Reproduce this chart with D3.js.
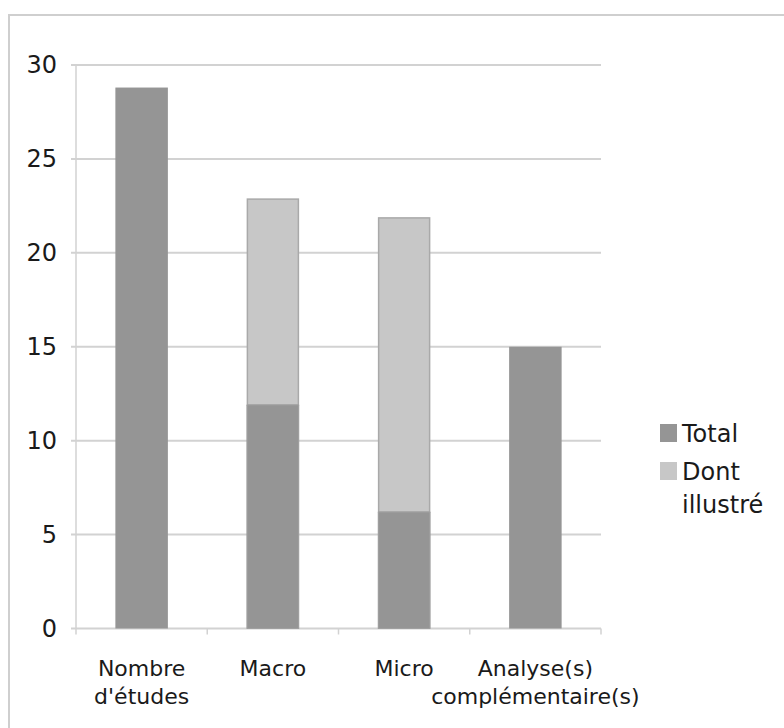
<!DOCTYPE html>
<html>
<head>
<meta charset="utf-8">
<script src="https://cdn.jsdelivr.net/npm/d3@7"></script>
<style>
  html, body { margin: 0; padding: 0; background: #ffffff; }
  svg { display: block; }
</style>
</head>
<body>
<svg id="chart" width="784" height="728"></svg>
<script>
// ---- data ----
const categories = [["Nombre", "d'études"], ["Macro"], ["Micro"], ["Analyse(s)", "complémentaire(s)"]];
const categoryKeys = ["Nombre d'études", "Macro", "Micro", "Analyse(s) complémentaire(s)"];
const totalValues = [28.8, 11.9, 6.2, 15];
const illustreValues = [0, 11, 15.7, 0];
const seriesNames = ["Total", "Dont illustré"];
const yTicks = [0, 5, 10, 15, 20, 25, 30];

// ---- layout ----
const svg = d3.select("#chart");
const font = "'DejaVu Sans', sans-serif";
const colTotal = "#959595";
const colIll = "#c7c7c7";
const gridCol = "#d2d2d2";

// outer frame
svg.append("rect").attr("x", 0).attr("y", 0).attr("width", 784).attr("height", 728).attr("fill", "#ffffff");
svg.append("line").attr("x1", 9).attr("x2", 784).attr("y1", 15).attr("y2", 15)
  .attr("stroke", "#cfcfcf").attr("stroke-width", 2);
svg.append("line").attr("x1", 9).attr("x2", 9).attr("y1", 14).attr("y2", 728)
  .attr("stroke", "#cfcfcf").attr("stroke-width", 2);

const x = d3.scaleBand().domain(categoryKeys).range([76, 601]).paddingInner(0.6).paddingOuter(0.3);
const y = d3.scaleLinear().domain([0, 30]).range([628.5, 65]);

// gridlines
const g = svg.append("g");
g.selectAll("line.grid").data(yTicks).enter().append("line")
  .attr("x1", 71).attr("x2", 601)
  .attr("y1", d => y(d)).attr("y2", d => y(d))
  .attr("stroke", gridCol).attr("stroke-width", 2);

// y axis line
g.append("line").attr("x1", 76).attr("x2", 76).attr("y1", y(30)).attr("y2", y(0))
  .attr("stroke", gridCol).attr("stroke-width", 1.5);

// x ticks at band boundaries
const step = x.step();
const bounds = d3.range(categoryKeys.length + 1).map(i => 76 + i * (525 / categoryKeys.length));
g.selectAll("line.xt").data(bounds).enter().append("line")
  .attr("x1", d => d).attr("x2", d => d)
  .attr("y1", y(0)).attr("y2", y(0) + 6)
  .attr("stroke", gridCol).attr("stroke-width", 1.5);

// y labels
g.selectAll("text.yl").data(yTicks).enter().append("text")
  .attr("x", 57).attr("y", d => y(d) + 8)
  .attr("text-anchor", "end")
  .attr("font-family", font).attr("font-size", 24).attr("fill", "#1a1a1a")
  .text(d => d);

// stacked data
const rows = categoryKeys.map((k, i) => ({ key: k, total: totalValues[i], ill: illustreValues[i] }));
const stack = d3.stack().keys(["total", "ill"])(rows);

// bars
const bw = x.bandwidth();
// Total
g.selectAll("rect.tot").data(stack[0]).enter().append("rect")
  .attr("x", d => x(d.data.key)).attr("width", bw)
  .attr("y", d => y(d[1])).attr("height", d => y(d[0]) - y(d[1]))
  .attr("fill", colTotal);
// Dont illustré
g.selectAll("rect.ill").data(stack[1].filter(d => d[1] - d[0] > 0)).enter().append("rect")
  .attr("x", d => x(d.data.key) + 0.75).attr("width", bw - 1.5)
  .attr("y", d => y(d[1]) + 0.75).attr("height", d => y(d[0]) - y(d[1]) - 0.75)
  .attr("fill", colIll).attr("stroke", "#a9a9a9").attr("stroke-width", 1.5);
// outline on total part below light part
g.selectAll("rect.totOutline").data(stack[0].filter((d, i) => illustreValues[i] > 0)).enter().append("rect")
  .attr("x", d => x(d.data.key) + 0.5).attr("width", bw - 1)
  .attr("y", d => y(d[1])).attr("height", d => y(d[0]) - y(d[1]))
  .attr("fill", colTotal).attr("stroke", "#a0a0a0").attr("stroke-width", 1);

// category labels
const lab = g.selectAll("text.cat").data(categories).enter().append("text")
  .attr("font-family", font).attr("font-size", 22).attr("fill", "#1a1a1a")
  .attr("text-anchor", "middle");
lab.each(function(lines, i) {
  const cx = x(categoryKeys[i]) + bw / 2;
  d3.select(this).selectAll("tspan").data(lines).enter().append("tspan")
    .attr("x", cx).attr("y", (d, j) => 676 + j * 28)
    .text(d => d);
});

// legend
const legend = svg.append("g");
legend.append("rect").attr("x", 660).attr("y", 424).attr("width", 17).attr("height", 18).attr("fill", colTotal);
legend.append("text").attr("x", 682).attr("y", 442)
  .attr("font-family", font).attr("font-size", 24).attr("fill", "#1a1a1a").text(seriesNames[0]);
legend.append("rect").attr("x", 660).attr("y", 462).attr("width", 17).attr("height", 18).attr("fill", colIll);
const lt = legend.append("text").attr("font-family", font).attr("font-size", 24).attr("fill", "#1a1a1a");
lt.append("tspan").attr("x", 682).attr("y", 480).text("Dont");
lt.append("tspan").attr("x", 682).attr("y", 513).text("illustré");
</script>
</body>
</html>
